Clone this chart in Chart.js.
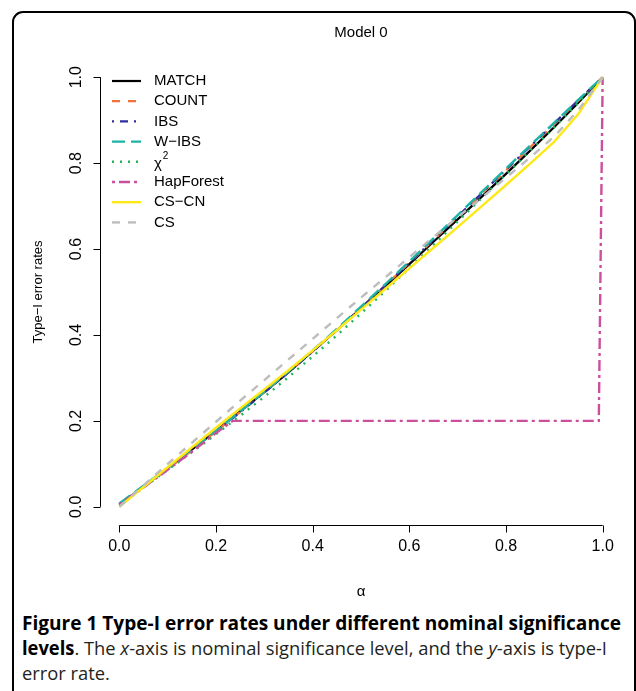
<!DOCTYPE html>
<html>
<head>
<meta charset="utf-8">
<script src="https://cdn.jsdelivr.net/npm/chart.js@4.4.1/dist/chart.umd.min.js"></script>
<style>
  html, body { margin: 0; padding: 0; background: #fff; }
  body { width: 636px; height: 691px; overflow: hidden; position: relative; }
  #frame { position: absolute; left: 12px; top: 11px; width: 620px; height: 740px;
           border: 2px solid #000; border-radius: 11px; }
  #chartBox { position: absolute; left: 0; top: 0; width: 636px; height: 610px; }
  #caption { position: absolute; left: 22px; top: 611px; font-family: "Open Sans", sans-serif;
             font-size: 19px; color: #231f20; }
  #caption .line { white-space: nowrap; transform-origin: 0 50%; height: 25px; line-height: 25px; }
  #caption b { color: #000; }
</style>
</head>
<body>
<div id="frame"></div>
<div id="chartBox"><canvas id="chart" width="636" height="610"></canvas></div>
<div id="caption">
  <div class="line" data-w="599"><b>Figure 1 Type-I error rates under different nominal significance</b></div>
  <div class="line" data-w="585"><b>levels</b>. The <i>x</i>-axis is nominal significance level, and the <i>y</i>-axis is type-I</div>
  <div class="line" data-ref="1">error rate.</div>
</div>
<script>
// nominal significance levels
const alpha = [0, 0.05, 0.1, 0.15, 0.2, 0.25, 0.3, 0.35, 0.4, 0.45, 0.5,
               0.55, 0.6, 0.65, 0.7, 0.75, 0.8, 0.85, 0.9, 0.95, 1];

// type-I error rates
const matchRate = [0.005, 0.047, 0.090, 0.133, 0.177, 0.222, 0.267, 0.313, 0.362, 0.411, 0.462,
                   0.513, 0.565, 0.617, 0.669, 0.722, 0.775, 0.829, 0.884, 0.941, 1.0];
const countRate = [0.005, 0.046, 0.088, 0.131, 0.176, 0.221, 0.267, 0.314, 0.362, 0.412, 0.463,
                   0.515, 0.568, 0.621, 0.675, 0.729, 0.783, 0.837, 0.891, 0.946, 1.0];
const ibsRate = [0.006, 0.047, 0.089, 0.132, 0.175, 0.220, 0.266, 0.313, 0.361, 0.411, 0.463,
                 0.515, 0.568, 0.622, 0.676, 0.730, 0.785, 0.839, 0.893, 0.947, 1.0];
const wibsRate = [0.008, 0.049, 0.091, 0.134, 0.177, 0.222, 0.268, 0.315, 0.364, 0.414, 0.466,
                  0.518, 0.571, 0.625, 0.679, 0.733, 0.787, 0.841, 0.894, 0.948, 1.0];
const chisqRate = [0.004, 0.045, 0.086, 0.127, 0.169, 0.212, 0.256, 0.302, 0.350, 0.399, 0.450,
                   0.502, 0.556, 0.610, 0.664, 0.719, 0.774, 0.829, 0.884, 0.941, 1.0];
const cscnRate = [0.0, 0.046, 0.092, 0.138, 0.184, 0.229, 0.273, 0.318, 0.364, 0.411, 0.459,
                  0.507, 0.555, 0.603, 0.651, 0.700, 0.749, 0.799, 0.850, 0.915, 1.0];
const csRate = [0.0, 0.050, 0.100, 0.149, 0.198, 0.247, 0.295, 0.343, 0.391, 0.439, 0.487,
                0.534, 0.581, 0.628, 0.674, 0.720, 0.766, 0.813, 0.862, 0.924, 1.0];

// HapForest levels off at 0.2
const hapAlpha = [0, 0.05, 0.1, 0.15, 0.2, 0.235, 0.992, 1];
const hapRate = [0.005, 0.045, 0.086, 0.128, 0.172, 0.2, 0.2, 1.0];

const methods = ['MATCH', 'COUNT', 'IBS', 'W-IBS', 'χ2', 'HapForest', 'CS-CN', 'CS'];
const xTicks = [0, 0.2, 0.4, 0.6, 0.8, 1];
const yTicks = [0, 0.2, 0.4, 0.6, 0.8, 1];
const tickLabels = ['0.0', '0.2', '0.4', '0.6', '0.8', '1.0'];

const FONT = '"Liberation Sans", Arial, sans-serif';

function pts(xs, ys) {
    return xs.map((v, i) => ({ x: v, y: ys[i] }));
}

const styles = [
    { color: '#000000', dash: [], width: 2.2 },
    { color: '#f4713a', dash: [8, 8], width: 2.2 },
    { color: '#2e2e9e', dash: [2, 6, 8, 6], width: 2.2 },
    { color: '#1db3a6', dash: [13, 6], width: 2.4 },
    { color: '#1fb45c', dash: [2, 6], width: 2.4 },
    { color: '#cc4f9e', dash: [3, 4, 11, 4], width: 2.4 },
    { color: '#ffe817', dash: [], width: 2.4 },
    { color: '#bdbdbd', dash: [8, 8], width: 2.4 },
];

const series = [
    pts(alpha, matchRate),
    pts(alpha, countRate),
    pts(alpha, ibsRate),
    pts(alpha, wibsRate),
    pts(alpha, chisqRate),
    pts(hapAlpha, hapRate),
    pts(alpha, cscnRate),
    pts(alpha, csRate),
];

const datasets = series.map((d, i) => ({
    label: methods[i],
    data: d,
    borderColor: styles[i].color,
    borderDash: styles[i].dash,
    borderWidth: styles[i].width,
    pointRadius: 0,
    tension: 0,
    fill: false,
    // later series go on top, as in the original plot
    order: methods.length - i,
}));

// R-style axes, labels, title and legend
const rDecor = {
    id: 'rDecor',
    afterDatasetsDraw(chart) {
        const { ctx, chartArea: a, scales: { x, y } } = chart;
        ctx.save();
        ctx.setLineDash([]);
        ctx.strokeStyle = '#000';
        ctx.lineWidth = 1;
        ctx.fillStyle = '#000';

        // x axis
        const yb = Math.round(a.bottom) + 1.5;
        ctx.beginPath();
        ctx.moveTo(x.getPixelForValue(xTicks[0]), yb);
        ctx.lineTo(x.getPixelForValue(xTicks[xTicks.length - 1]), yb);
        xTicks.forEach(v => {
            const px = Math.round(x.getPixelForValue(v)) + 0.5;
            ctx.moveTo(px, yb);
            ctx.lineTo(px, yb + 7);
        });
        // y axis
        const xl = Math.round(a.left) + 0.5;
        ctx.moveTo(xl, y.getPixelForValue(yTicks[0]));
        ctx.lineTo(xl, y.getPixelForValue(yTicks[yTicks.length - 1]));
        yTicks.forEach(v => {
            const py = Math.round(y.getPixelForValue(v)) + 0.5;
            ctx.moveTo(xl, py);
            ctx.lineTo(xl - 7, py);
        });
        ctx.stroke();

        ctx.font = '16px ' + FONT;
        ctx.textAlign = 'center';
        ctx.textBaseline = 'middle';
        xTicks.forEach((v, i) => {
            ctx.fillText(tickLabels[i], x.getPixelForValue(v), yb + 21);
        });
        yTicks.forEach((v, i) => {
            ctx.save();
            ctx.translate(xl - 24, y.getPixelForValue(v));
            ctx.rotate(-Math.PI / 2);
            ctx.fillText(tickLabels[i], 0, 0);
            ctx.restore();
        });

        // axis titles and main title
        const cx = (a.left + a.right) / 2;
        ctx.font = '15px ' + FONT;
        ctx.fillText('α', cx, 592);
        ctx.save();
        ctx.translate(38, (a.top + a.bottom) / 2);
        ctx.rotate(-Math.PI / 2);
        ctx.font = '13px ' + FONT;
        ctx.fillText('Type\u2212I error rates', 0, 0);
        ctx.restore();
        ctx.font = '15px ' + FONT;
        ctx.fillText('Model 0', cx, 33);

        // legend
        ctx.textAlign = 'left';
        ctx.font = '15px ' + FONT;
        chart.data.datasets.forEach((ds, i) => {
            const ry = a.top + 21 + i * 20.2;
            ctx.save();
            ctx.strokeStyle = ds.borderColor;
            ctx.lineWidth = ds.borderWidth;
            ctx.setLineDash(ds.borderDash);
            ctx.beginPath();
            ctx.moveTo(a.left + 12, ry);
            ctx.lineTo(a.left + 41, ry);
            ctx.stroke();
            ctx.restore();
            const tx = a.left + 54;
            if (ds.label === 'χ2') {
                ctx.fillText('χ', tx, ry + 2);
                const w = ctx.measureText('χ').width;
                ctx.font = '10px ' + FONT;
                ctx.fillText('2', tx + w + 1, ry - 6);
                ctx.font = '15px ' + FONT;
            } else {
                ctx.fillText(ds.label.replace('-', '\u2212'), tx, ry);
            }
        });
        ctx.restore();
    },
};

new Chart(document.getElementById('chart'), {
    type: 'line',
    data: { datasets },
    options: {
        responsive: false,
        animation: false,
        maintainAspectRatio: false,
        layout: { padding: { left: 100, top: 60, right: 14, bottom: 86 } },
        plugins: { legend: { display: false }, tooltip: { enabled: false }, title: { display: false } },
        scales: {
            x: { type: 'linear', min: -0.04, max: 1.04, display: false },
            y: { type: 'linear', min: -0.04, max: 1.04, display: false },
        },
    },
    plugins: [rDecor],
});

// fit caption lines to the widths of the original figure
let lastScale = 1;
document.querySelectorAll('#caption .line').forEach(el => {
    el.style.display = 'inline-block';
    const w = el.getBoundingClientRect().width;
    el.style.display = 'block';
    const s = el.dataset.w ? Number(el.dataset.w) / w : lastScale;
    lastScale = s;
    el.style.transform = 'scaleX(' + s + ')';
});
</script>
</body>
</html>
